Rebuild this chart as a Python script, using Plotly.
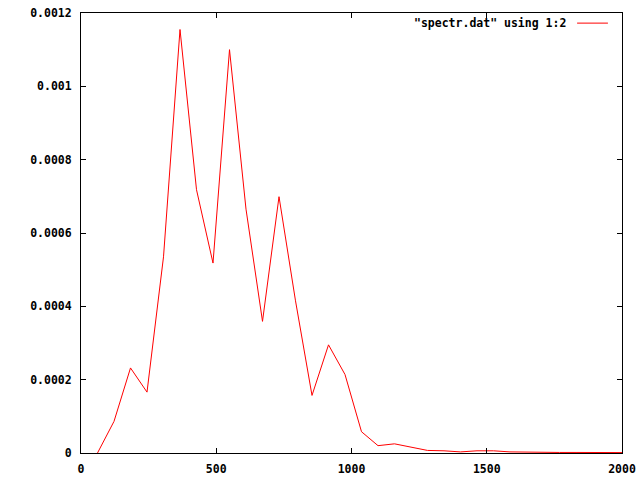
import plotly.graph_objects as go

# Data
freq = [61 * k for k in range(1, 35)]
power = [0.0, 0.0000862, 0.000232, 0.000166, 0.000535, 0.001155, 0.000718,
         0.000518, 0.0011, 0.000665, 0.000359, 0.000699, 0.000415, 0.000157,
         0.000295, 0.000214, 0.000058, 0.000020, 0.000025, 0.000017, 0.000007,
         0.000006, 0.000003, 0.000006, 0.000006, 0.000003, 0.000002, 0.000002,
         0.0000015, 0.0000015, 0.000001, 0.000001, 0.000001, 0.000001]
series_name = '"spectr.dat" using 1:2'
x_ticks = [0, 500, 1000, 1500, 2000]
x_tick_text = ["0", "500", "1000", "1500", "2000"]
y_ticks = [0, 0.0002, 0.0004, 0.0006, 0.0008, 0.001, 0.0012]
y_tick_text = ["0", "0.0002", "0.0004", "0.0006", "0.0008", "0.001", "0.0012"]

FONT = dict(family="DejaVu Sans Mono", size=11.5, color="black", weight="bold")

fig = go.Figure()
fig.add_trace(go.Scatter(x=freq, y=power, mode="lines", name=series_name,
                         line=dict(color="#ff0000", width=1), showlegend=False))

axis_common = dict(showline=True, linecolor="black", linewidth=1, mirror="ticks",
                   ticks="inside", ticklen=5, tickcolor="black", tickwidth=1,
                   showgrid=False, zeroline=False, tickfont=FONT, automargin=False,
                   ticklabeloverflow="allow")

fig.update_xaxes(range=[0, 2000], tickvals=x_ticks, ticktext=x_tick_text,
                 ticklabelstandoff=5, **axis_common)
fig.update_yaxes(range=[0, 0.0012], tickvals=y_ticks, ticktext=y_tick_text,
                 ticklabelstandoff=6, **axis_common)

# gnuplot-style key: text with sample line on its right
fig.add_annotation(xref="paper", yref="paper", x=0.9, y=0.977, text=series_name,
                   showarrow=False, xanchor="right", yanchor="middle", font=FONT)
fig.add_shape(type="line", xref="paper", yref="paper", x0=0.917, x1=0.974,
              y0=0.977, y1=0.977, line=dict(color="#ff0000", width=1))

fig.update_layout(width=640, height=480, plot_bgcolor="white", paper_bgcolor="white",
                  margin=dict(l=81, r=18, t=13, b=27, autoexpand=False),
                  showlegend=False, font=FONT, hovermode=False)

# remove the default 8px page margin so the figure fills the window exactly
fig.write_html("out.html", config={"displayModeBar": False, "staticPlot": True},
               post_script="document.body.style.margin='0';document.body.style.overflow='hidden';")
